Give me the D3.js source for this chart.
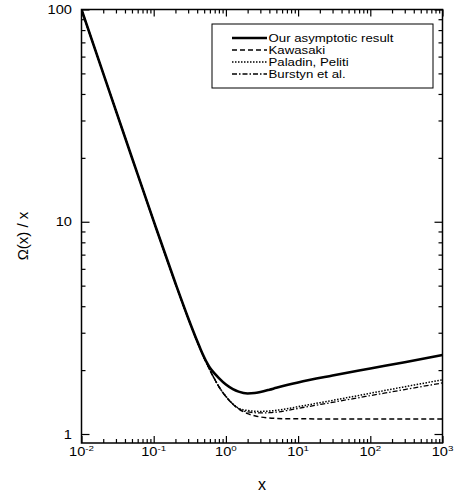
<!DOCTYPE html>
<html>
<head>
<meta charset="utf-8">
<script src="https://cdn.jsdelivr.net/npm/d3@7"></script>
<style>
  html, body { margin: 0; padding: 0; background: #fff; }
  svg { display: block; }
  text { font-family: "Liberation Sans", Arial, Helvetica, sans-serif; fill: #000; }
</style>
</head>
<body>
<svg id="chart" width="455" height="499"></svg>
<script>
// Sample points along x (shared by all four curves)
const xValues = [0.01, 0.02, 0.05, 0.1, 0.2, 0.3, 0.4, 0.45, 0.5, 0.55, 0.6, 0.7, 0.8, 1, 1.25, 1.5, 2, 2.5, 3, 4, 5, 7, 10, 30, 100, 300, 1000];

// Omega(x)/x for each approach
const asymptotic = [100, 50.01, 20.03, 10.06, 5.13, 3.52, 2.74, 2.49, 2.30, 2.155, 2.05, 1.925, 1.835, 1.71, 1.628, 1.584, 1.553, 1.559, 1.577, 1.616, 1.65, 1.70, 1.75, 1.886, 2.035, 2.18, 2.355];
const kawasaki   = [100, 50.01, 20.03, 10.06, 5.12, 3.51, 2.73, 2.48, 2.28, 2.13, 2.00, 1.81, 1.67, 1.50, 1.38, 1.314, 1.247, 1.218, 1.203, 1.190, 1.184, 1.180, 1.179, 1.178, 1.178, 1.178, 1.178];
const paladin    = [100, 50.01, 20.03, 10.06, 5.12, 3.51, 2.73, 2.48, 2.28, 2.13, 2.00, 1.81, 1.67, 1.505, 1.385, 1.322, 1.29, 1.28, 1.278, 1.283, 1.293, 1.315, 1.345, 1.44, 1.556, 1.67, 1.80];
const burstyn    = [100, 50.01, 20.03, 10.06, 5.12, 3.51, 2.73, 2.48, 2.28, 2.13, 2.00, 1.81, 1.67, 1.502, 1.383, 1.316, 1.27, 1.26, 1.257, 1.26, 1.268, 1.29, 1.32, 1.41, 1.516, 1.62, 1.74];

// Axis ticks and labels
const xMajorTicks = [1e-2, 1e-1, 1, 10, 100, 1000];
const xTickExponents = ["-2", "-1", "0", "1", "2", "3"];
const yMajorTicks = [1, 10, 100];
const yTickLabels = ["1", "10", "100"];

const seriesNames = ["Our asymptotic result", "Kawasaki", "Paladin, Peliti", "Burstyn et al."];

const svg = d3.select("#chart");
const plotLeft = 81.5, plotRight = 442.5, plotTop = 9.5, plotBottom = 443;

const x = d3.scaleLog().domain([1e-2, 1e3]).range([plotLeft, plotRight]);
const y = d3.scaleLog().domain([0.907, 100]).range([plotBottom, plotTop]);

// minor ticks: 2..9 within each decade
function minors(majors, lo, hi) {
  const out = [];
  majors.forEach(m => { for (let k = 2; k <= 9; k++) { const v = m * k; if (v > lo && v < hi) out.push(v); } });
  return out;
}
const xMinor = minors(xMajorTicks, 1e-2, 1e3);
const yMinor = minors([0.1].concat(yMajorTicks), 0.907, 100);

const noLabel = () => "";
function styleAxis(g) {
  g.select(".domain").remove();
  g.selectAll(".tick line").attr("stroke", "#000").attr("stroke-width", 1.2);
}
// bottom / top
svg.append("g").attr("transform", `translate(0,${plotBottom})`)
  .call(d3.axisBottom(x).tickValues(xMajorTicks).tickSize(-7).tickFormat(noLabel)).call(styleAxis);
svg.append("g").attr("transform", `translate(0,${plotBottom})`)
  .call(d3.axisBottom(x).tickValues(xMinor).tickSize(-4).tickFormat(noLabel)).call(styleAxis);
svg.append("g").attr("transform", `translate(0,${plotTop})`)
  .call(d3.axisTop(x).tickValues(xMajorTicks).tickSize(-7).tickFormat(noLabel)).call(styleAxis);
svg.append("g").attr("transform", `translate(0,${plotTop})`)
  .call(d3.axisTop(x).tickValues(xMinor).tickSize(-4).tickFormat(noLabel)).call(styleAxis);
// left / right
svg.append("g").attr("transform", `translate(${plotLeft},0)`)
  .call(d3.axisLeft(y).tickValues(yMajorTicks).tickSize(-8).tickFormat(noLabel)).call(styleAxis);
svg.append("g").attr("transform", `translate(${plotLeft},0)`)
  .call(d3.axisLeft(y).tickValues(yMinor).tickSize(-4).tickFormat(noLabel)).call(styleAxis);
svg.append("g").attr("transform", `translate(${plotRight},0)`)
  .call(d3.axisRight(y).tickValues(yMajorTicks).tickSize(-8).tickFormat(noLabel)).call(styleAxis);
svg.append("g").attr("transform", `translate(${plotRight},0)`)
  .call(d3.axisRight(y).tickValues(yMinor).tickSize(-4).tickFormat(noLabel)).call(styleAxis);

// frame
svg.append("rect").attr("x", plotLeft).attr("y", plotTop)
  .attr("width", plotRight - plotLeft).attr("height", plotBottom - plotTop)
  .attr("fill", "none").attr("stroke", "#000").attr("stroke-width", 1.5);

// tick labels (slightly wide lettering)
const stretch = 1.22;
xMajorTicks.forEach((v, i) => {
  const g = svg.append("g").attr("transform", `translate(${x(v)},455.5) scale(${stretch},1)`);
  const t = g.append("text").attr("text-anchor", "middle").attr("font-size", 12);
  t.append("tspan").text("10");
  t.append("tspan").attr("font-size", 8).attr("dy", -5).text(xTickExponents[i]);
});
yMajorTicks.forEach((v, i) => {
  svg.append("g").attr("transform", `translate(72,${y(v) + 4.5}) scale(${stretch},1)`)
    .append("text").attr("text-anchor", "end").attr("font-size", 12).text(yTickLabels[i]);
});

// axis titles
svg.append("text").attr("x", 262).attr("y", 490).attr("text-anchor", "middle")
  .attr("font-size", 16).text("x");
svg.append("text").attr("transform", "translate(28,236) rotate(-90)")
  .attr("text-anchor", "middle").attr("font-size", 15).text("\u03A9(x) / x");

// curves
const styles = [
  { data: kawasaki,   width: 1.5, dash: "5,3" },
  { data: paladin,    width: 1.5, dash: "1.5,1.5" },
  { data: burstyn,    width: 1.3, dash: "5,2,1.5,2" },
  { data: asymptotic, width: 2.6, dash: null }
];
const line = d3.line().x(d => x(d[0])).y(d => y(d[1])).curve(d3.curveMonotoneX);
svg.append("clipPath").attr("id", "plotClip").append("rect")
  .attr("x", plotLeft).attr("y", plotTop - 2).attr("width", plotRight - plotLeft).attr("height", plotBottom - plotTop + 2);
const plot = svg.append("g").attr("clip-path", "url(#plotClip)");
styles.forEach(s => {
  plot.append("path").datum(xValues.map((xv, i) => [xv, s.data[i]]))
    .attr("d", line).attr("fill", "none").attr("stroke", "#000")
    .attr("stroke-width", s.width).attr("stroke-dasharray", s.dash);
});

// legend
const legend = svg.append("g");
legend.append("rect").attr("x", 212).attr("y", 24).attr("width", 221).attr("height", 64)
  .attr("fill", "#fff").attr("stroke", "#000").attr("stroke-width", 1);
const legendOrder = [3, 0, 1, 2];
seriesNames.forEach((name, i) => {
  const s = styles[legendOrder[i]];
  const yy = 38 + i * 12;
  legend.append("line").attr("x1", 232).attr("x2", 267).attr("y1", yy).attr("y2", yy)
    .attr("stroke", "#000").attr("stroke-width", s.width).attr("stroke-dasharray", s.dash);
  legend.append("g").attr("transform", `translate(268.5,${yy + 3.8}) scale(1.26,1)`)
    .append("text").attr("font-size", 10.5).text(name);
});
</script>
</body>
</html>
